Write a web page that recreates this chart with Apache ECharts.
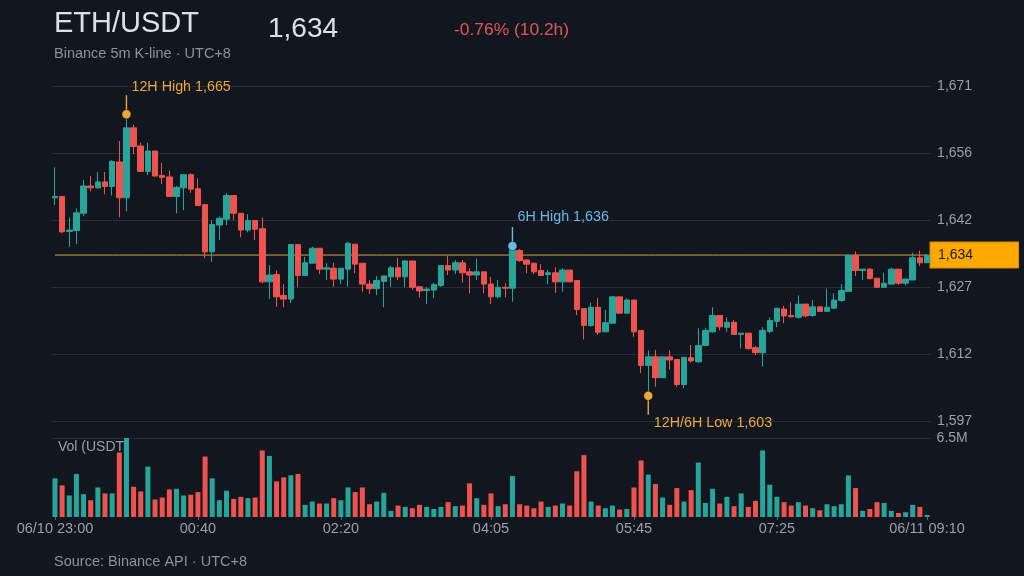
<!DOCTYPE html>
<html>
<head>
<meta charset="utf-8">
<script src="https://cdn.jsdelivr.net/npm/echarts@6/dist/echarts.min.js"></script>
<style>
html,body{margin:0;padding:0;background:#12161e;}
#chart{width:1024px;height:576px;}
</style>
</head>
<body>
<div id="chart"></div>
<script>
// ---- data ----
const categories = ["23:00","23:05","23:10","23:15","23:20","23:25","23:30","23:35","23:40","23:45","23:50","23:55",
"00:00","00:05","00:10","00:15","00:20","00:25","00:30","00:35","00:40","00:45","00:50","00:55",
"01:00","01:05","01:10","01:15","01:20","01:25","01:30","01:35","01:40","01:45","01:50","01:55",
"02:00","02:05","02:10","02:15","02:20","02:25","02:30","02:35","02:40","02:45","02:50","02:55",
"03:00","03:05","03:10","03:15","03:20","03:25","03:30","03:35","03:40","03:45","03:50","03:55",
"04:00","04:05","04:10","04:15","04:20","04:25","04:30","04:35","04:40","04:45","04:50","04:55",
"05:00","05:05","05:10","05:15","05:20","05:25","05:30","05:35","05:40","05:45","05:50","05:55",
"06:00","06:05","06:10","06:15","06:20","06:25","06:30","06:35","06:40","06:45","06:50","06:55",
"07:00","07:05","07:10","07:15","07:20","07:25","07:30","07:35","07:40","07:45","07:50","07:55",
"08:00","08:05","08:10","08:15","08:20","08:25","08:30","08:35","08:40","08:45","08:50","08:55",
"09:00","09:05","09:10"];

const opens = [1646.6,1646.9,1639.2,1639.4,1643.2,1649.2,1648.8,1650.1,1649.1,1654.5,
1646.6,1662.0,1658.0,1652.4,1656.9,1651.5,1651.2,1646.9,1648.8,1651.7,
1648.6,1645.1,1634.7,1640.6,1641.9,1647.1,1643.2,1639.5,1641.6,1639.8,
1628.1,1629.7,1625.1,1624.3,1636.3,1629.5,1632.2,1635.5,1630.9,1631.1,
1628.7,1630.9,1636.4,1632.2,1627.6,1626.6,1628.2,1629.2,1631.2,1629.2,
1632.7,1627.0,1626.2,1626.3,1627.3,1631.7,1630.7,1632.3,1630.3,1629.6,
1630.3,1627.6,1624.8,1626.9,1626.7,1635.0,1632.9,1632.2,1630.6,1629.7,
1630.1,1628.1,1630.7,1628.4,1622.2,1618.5,1622.5,1617.1,1619.0,1624.8,
1621.2,1624.1,1617.4,1609.7,1611.6,1607.0,1611.6,1611.0,1605.5,1611.4,
1610.5,1614.1,1617.1,1620.7,1618.1,1619.2,1616.5,1616.8,1613.6,1612.5,
1617.2,1619.4,1622.1,1620.7,1620.3,1623.2,1620.7,1622.6,1621.6,1622.3,
1624.0,1626.0,1633.9,1630.6,1630.9,1628.9,1626.9,1627.6,1630.9,1627.8,
1628.5,1633.4,1632.3];
const closes = [1646.9,1639.1,1639.5,1643.3,1649.2,1648.8,1650.1,1649.1,1654.6,1646.6,
1662.0,1657.9,1652.4,1656.9,1651.4,1651.1,1646.9,1648.9,1651.7,1648.5,
1644.9,1634.7,1640.7,1642.1,1647.1,1643.2,1639.5,1641.6,1639.7,1628.1,
1629.6,1624.8,1624.3,1636.3,1629.5,1632.3,1635.5,1630.9,1631.2,1628.7,
1631.1,1636.6,1632.0,1627.6,1626.6,1628.4,1629.4,1631.2,1629.2,1632.7,
1626.9,1626.1,1626.5,1627.5,1631.7,1630.7,1632.3,1630.1,1629.6,1630.3,
1627.6,1624.8,1626.9,1626.7,1635.0,1632.8,1632.0,1630.3,1629.5,1630.1,
1628.1,1630.7,1628.1,1622.0,1618.5,1622.5,1617.0,1619.1,1624.8,1621.2,
1624.1,1617.1,1609.7,1611.6,1607.0,1611.6,1610.9,1605.5,1611.5,1610.7,
1614.1,1617.4,1620.7,1618.2,1619.2,1616.5,1616.8,1613.4,1612.5,1617.4,
1619.6,1622.3,1620.6,1620.4,1623.2,1620.6,1622.6,1621.6,1622.5,1624.1,
1626.2,1633.9,1630.6,1630.9,1628.8,1626.9,1627.8,1630.9,1627.8,1628.7,
1633.4,1632.3,1634.0];
const lows = [1645.0,1638.8,1635.8,1636.4,1642.6,1648.0,1648.6,1647.4,1647.1,1642.3,
1643.6,1656.2,1652.3,1651.6,1651.2,1649.6,1646.8,1643.2,1643.9,1647.7,
1644.9,1633.3,1632.5,1637.3,1640.6,1641.7,1637.9,1639.0,1637.3,1627.8,
1624.3,1622.6,1622.5,1623.4,1626.9,1629.5,1632.2,1629.8,1628.5,1627.0,
1627.6,1627.0,1630.0,1625.9,1625.4,1625.2,1622.5,1627.0,1628.5,1626.9,
1626.3,1624.7,1623.2,1624.5,1627.0,1629.6,1629.8,1627.9,1625.6,1628.5,
1625.6,1623.2,1624.5,1624.7,1623.7,1632.5,1630.0,1629.8,1629.5,1627.6,
1625.7,1625.9,1628.1,1620.8,1615.4,1618.2,1616.4,1617.1,1619.0,1621.2,
1621.2,1616.0,1608.0,1603.0,1605.0,1607.0,1608.8,1605.0,1604.7,1610.3,
1610.3,1614.0,1616.9,1617.4,1617.1,1616.5,1613.4,1613.2,1612.0,1609.4,
1616.8,1618.1,1619.0,1620.3,1620.0,1620.3,1620.4,1621.5,1621.6,1622.2,
1623.7,1626.0,1629.4,1628.5,1628.7,1626.7,1626.9,1627.6,1627.4,1627.3,
1628.5,1631.6,1632.3];
const highs = [1653.3,1646.9,1642.3,1644.3,1650.5,1651.4,1652.3,1652.3,1654.9,1659.1,
1665.0,1662.7,1658.7,1658.7,1656.9,1654.3,1652.6,1649.2,1651.7,1652.0,
1650.9,1645.1,1641.7,1642.5,1647.6,1647.1,1643.2,1643.0,1641.6,1642.3,
1631.8,1630.6,1627.6,1636.3,1636.3,1633.6,1635.8,1635.5,1632.2,1632.3,
1631.1,1636.9,1636.4,1632.2,1628.5,1629.4,1629.4,1631.6,1633.3,1632.9,
1632.7,1627.2,1626.9,1627.9,1631.7,1633.8,1632.9,1632.9,1631.1,1633.2,
1630.3,1629.2,1628.5,1627.8,1636.0,1635.3,1633.1,1632.3,1632.0,1630.7,
1631.3,1631.1,1630.7,1628.4,1622.2,1623.5,1624.5,1621.9,1625.0,1624.8,
1624.5,1624.1,1617.4,1613.0,1613.1,1611.6,1613.0,1611.0,1611.5,1614.2,
1617.9,1618.0,1622.5,1620.7,1620.3,1619.7,1616.8,1616.8,1614.0,1618.1,
1620.3,1622.3,1622.8,1623.6,1625.1,1623.2,1624.1,1622.8,1626.6,1625.6,
1627.6,1633.9,1634.8,1630.9,1631.1,1628.9,1630.1,1631.2,1630.9,1628.9,
1634.5,1635.0,1634.2];
// volume in million USDT
const volumes = [3.18,2.60,1.77,3.54,1.88,1.38,2.43,1.94,1.94,5.31,
6.50,2.49,2.10,4.15,1.44,1.60,2.27,2.32,1.77,1.83,
2.05,4.98,3.18,1.38,2.16,1.49,1.66,1.55,1.60,5.48,
5.03,2.93,3.26,3.43,3.54,1.00,1.27,1.11,1.11,1.55,
1.38,2.43,2.05,2.43,1.05,1.27,1.99,0.50,0.94,0.83,
0.72,1.00,0.83,0.66,0.83,1.22,0.89,0.94,2.77,1.55,
1.00,1.94,0.89,1.05,3.37,1.05,0.94,0.72,1.27,0.83,
0.94,1.11,0.94,3.76,5.09,1.27,0.94,0.72,0.94,0.61,
0.66,2.43,4.65,3.49,2.71,1.60,1.00,2.38,1.27,2.21,
4.48,1.16,2.32,1.11,1.66,0.89,1.94,0.83,1.33,5.48,
2.66,1.66,1.22,0.94,1.22,0.94,0.72,0.55,1.05,0.89,
1.05,3.43,2.38,0.50,0.66,1.22,1.16,0.50,0.33,0.39,
1.00,0.83,0.17];

const xTickCats = ["23:00","00:40","02:20","04:05","05:45","07:25","09:10"];
const xTickText = ["06/10 23:00","00:40","02:20","04:05","05:45","07:25","06/11 09:10"];
const yTickLabels = ["1,597","1,612","1,627","1,642","1,656","1,671"];
const volTickLabels = ["", "6.5M"];
const titleText = "ETH/USDT";
const subText = "Binance 5m K-line · UTC+8";
const priceText = "1,634";
const changeText = "-0.76% (10.2h)";
const footerText = "Source: Binance API · UTC+8";

// ---- styles ----
const UP = '#26a69a', DOWN = '#ef5350', BG = '#12161e';
const ORANGE = '#eea83a', BLUE = '#6cb8e8';
const GRIDC = '#272c36', LABELC = '#9aa0a8';
const FONT = '"Liberation Sans", Arial, Helvetica, sans-serif';
const fmt = v => Math.round(v).toLocaleString('en-US');

const ohlc = opens.map((o, i) => [o, closes[i], lows[i], highs[i]]);
const volData = volumes.map((v, i) => ({
  value: v,
  itemStyle: { color: closes[i] >= opens[i] ? UP : DOWN }
}));

const n = categories.length;
let iHigh = 0, iLow = 0;
for (let i = 0; i < n; i++) {
  if (highs[i] > highs[iHigh]) iHigh = i;
  if (lows[i] < lows[iLow]) iLow = i;
}
let i6 = n - 72;
for (let i = n - 72; i < n; i++) if (highs[i] > highs[i6]) i6 = i;
const lastClose = closes[n - 1];
const lastLine = categories.map(() => lastClose);

const yMin = 1597.4, yMax = 1671.15, yInt = 14.75;

function dot(idx, val, color, text, pos) {
  return {
    coord: [categories[idx], val], symbol: 'circle', symbolSize: 9,
    itemStyle: { color: color, borderColor: 'rgba(0,0,0,0.35)', borderWidth: 1 },
    label: { show: true, formatter: text, position: pos, align: 'left', verticalAlign: 'middle',
      color: color, fontSize: 14.3, fontFamily: FONT }
  };
}
function stem(idx, val, color, up) {
  return {
    coord: [categories[idx], val], symbol: 'rect', symbolSize: [1.4, 15],
    symbolOffset: [0, up ? -11.5 : 11.5],
    itemStyle: { color: color }, label: { show: false }
  };
}

const PRICE_LINE = '#d9a040';
const chart = echarts.init(document.getElementById('chart'), null, { renderer: 'canvas' });
chart.setOption({
  backgroundColor: BG,
  animation: false,
  textStyle: { fontFamily: FONT },
  graphic: [
    { type: 'text', x: 54, y: 23.5, style: { text: titleText, font: '29px ' + FONT, fill: '#dde1e6', verticalAlign: 'middle', textVerticalAlign: 'middle' } },
    { type: 'text', x: 268, y: 29, style: { text: priceText, font: '28px ' + FONT, fill: '#dde1e6', verticalAlign: 'middle', textVerticalAlign: 'middle' } },
    { type: 'text', x: 454, y: 30, style: { text: changeText, font: '17.4px ' + FONT, fill: '#e05858', verticalAlign: 'middle', textVerticalAlign: 'middle' } },
    { type: 'text', x: 54, y: 54, style: { text: subText, font: '14.5px ' + FONT, fill: '#8d929a', verticalAlign: 'middle', textVerticalAlign: 'middle' } },
    { type: 'text', x: 58, y: 447, style: { text: 'Vol (USDT)', font: '14px ' + FONT, fill: '#9aa0a8', verticalAlign: 'middle', textVerticalAlign: 'middle' } },
    { type: 'text', x: 54, y: 562, style: { text: footerText, font: '14.5px ' + FONT, fill: '#8d929a', verticalAlign: 'middle', textVerticalAlign: 'middle' } }
  ],
  grid: [
    { left: 51.4, right: 93.4, top: 86.3, height: 335, outerBoundsMode: 'none' },
    { left: 51.4, right: 93.4, top: 438, height: 79, outerBoundsMode: 'none' }
  ],
  xAxis: [
    { type: 'category', gridIndex: 0, data: categories, boundaryGap: true,
      axisLine: { show: false }, axisTick: { show: false }, axisLabel: { show: false }, splitLine: { show: false },
      axisPointer: { show: false } },
    { type: 'category', gridIndex: 1, data: categories, boundaryGap: true,
      axisLine: { show: false },
      axisTick: { show: true, alignWithLabel: true, length: 3, lineStyle: { color: '#5a606b' },
        interval: (i, v) => xTickCats.indexOf(v) >= 0 },
      axisLabel: { show: true, color: LABELC, fontSize: 14.5, margin: 4, fontFamily: FONT,
        interval: (i, v) => xTickCats.indexOf(v) >= 0,
        formatter: v => { const k = xTickCats.indexOf(v); return k >= 0 ? xTickText[k] : ''; } },
      splitLine: { show: false } }
  ],
  yAxis: [
    { type: 'value', gridIndex: 0, position: 'right', min: yMin, max: yMax, interval: yInt,
      axisLine: { show: false }, axisTick: { show: false },
      axisLabel: { color: LABELC, fontSize: 14, margin: 6.5, fontFamily: FONT,
        formatter: v => yTickLabels[Math.round((v - yMin) / yInt)] || '' },
      splitLine: { show: true, lineStyle: { color: GRIDC, width: 1 } } },
    { type: 'value', gridIndex: 1, position: 'right', min: 0, max: 6.5, interval: 6.5,
      axisLine: { show: false }, axisTick: { show: false },
      axisLabel: { color: LABELC, fontSize: 14, margin: 6, fontFamily: FONT,
        formatter: v => volTickLabels[Math.round(v / 6.5)] || '' },
      splitLine: { show: true, lineStyle: { color: ['rgba(0,0,0,0)', GRIDC], width: 1 } } }
  ],
  series: [
    {
      name: 'last', type: 'line', xAxisIndex: 0, yAxisIndex: 0, data: lastLine,
      symbol: 'none', showSymbol: false, silent: true, z: 1,
      lineStyle: { color: PRICE_LINE, width: 1, type: 'solid', opacity: 1 },
      itemStyle: { color: PRICE_LINE },
      endLabel: { show: true, distance: 3.5, formatter: () => fmt(lastClose),
          backgroundColor: '#ffa800', borderColor: '#d48a00', borderWidth: 1,
          color: '#1a1a1a', fontSize: 14, lineHeight: 14, padding: [5.5, 45, 5.5, 7.5], fontFamily: FONT }
    },
    {
      type: 'candlestick', xAxisIndex: 0, yAxisIndex: 0, data: ohlc, barWidth: 6, z: 2,
      itemStyle: { color: UP, color0: DOWN, borderColor: UP, borderColor0: DOWN, borderWidth: 1 },
      markPoint: {
        silent: true, animation: false,
        data: [
          stem(iHigh, highs[iHigh], ORANGE, true),
          dot(iHigh, highs[iHigh], ORANGE, '12H High ' + fmt(highs[iHigh]), [10, -22]),
          stem(i6, highs[i6], BLUE, true),
          dot(i6, highs[i6], BLUE, '6H High ' + fmt(highs[i6]), [10, -23.5]),
          stem(iLow, lows[iLow], ORANGE, false),
          dot(iLow, lows[iLow], ORANGE, '12H/6H Low ' + fmt(lows[iLow]), [10.5, 32])
        ]
      }
    },
    {
      type: 'bar', xAxisIndex: 1, yAxisIndex: 1, data: volData, barWidth: 5
    }
  ]
});
</script>
</body>
</html>
